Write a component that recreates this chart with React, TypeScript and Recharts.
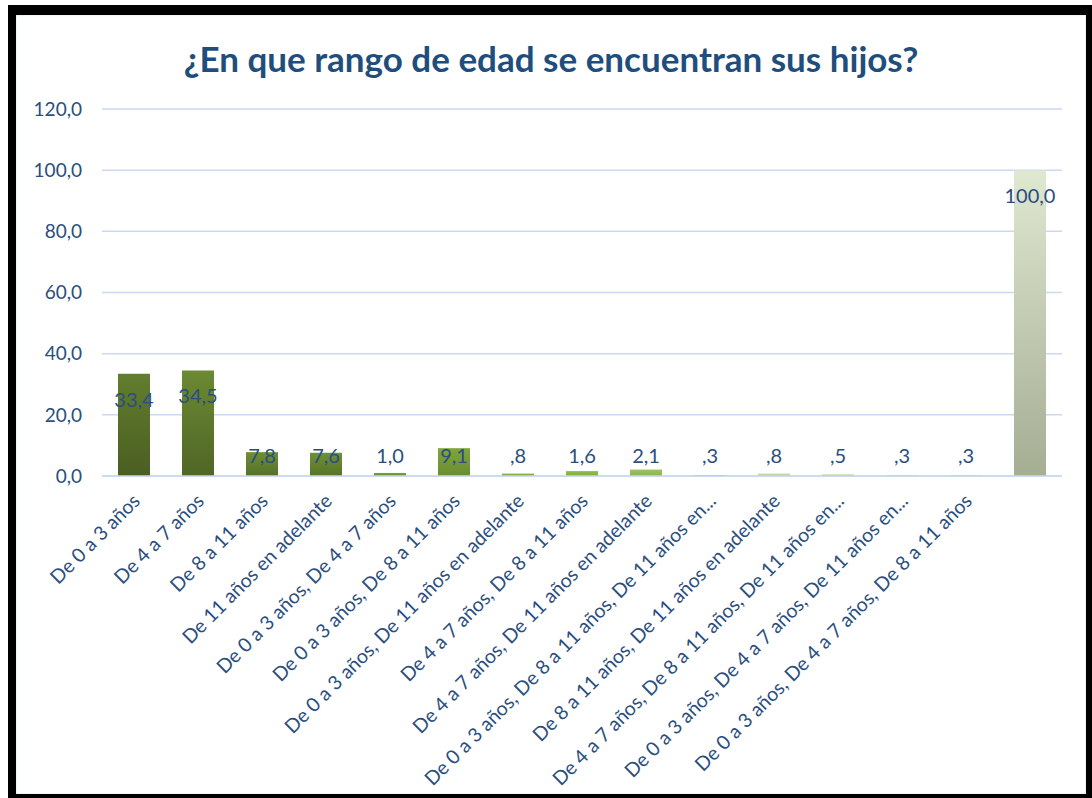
import { BarChart, Bar, XAxis, YAxis, CartesianGrid, Cell, LabelList } from "recharts";

const categories = [
  "De 0 a 3 años",
  "De 4 a 7 años",
  "De 8 a 11 años",
  "De 11 años en adelante",
  "De 0 a 3 años, De 4 a 7 años",
  "De 0 a 3 años, De 8 a 11 años",
  "De 0 a 3 años, De 11 años en adelante",
  "De 4 a 7 años, De 8 a 11 años",
  "De 4 a 7 años, De 11 años en adelante",
  "De 0 a 3 años, De 8 a 11 años, De 11 años en...",
  "De 8 a 11 años, De 11 años en adelante",
  "De 4 a 7 años, De 8 a 11 años, De 11 años en...",
  "De 0 a 3 años, De 4 a 7 años, De 11 años en...",
  "De 0 a 3 años, De 4 a 7 años, De 8 a 11 años",
  "",
];

const percents = [33.4, 34.5, 7.8, 7.6, 1.0, 9.1, 0.8, 1.6, 2.1, 0.3, 0.8, 0.5, 0.3, 0.3, 100.0];

const yTicks = [0, 20, 40, 60, 80, 100, 120];

// top / bottom gradient stops per bar
const barTops = [
  "#627e2e", "#6b8a32", "#6d8f34", "#6f9135", "#7aa03a", "#7fa53c", "#8cb84a",
  "#8fbd44", "#9cc35e", "#a5c86a", "#c6dba5", "#b4d184", "#c0d89c", "#c0d89c", "#dfe8d0",
];
const barBottoms = [
  "#4a5e22", "#506626", "#55702a", "#587329", "#6a8d32", "#6a8d32", "#7aa63e",
  "#80ad3a", "#8cb353", "#95b85e", "#b8cf94", "#a5c274", "#b2cb8c", "#b2cb8c", "#a5ad93",
];

const data = categories.map((name, i) => ({ name, value: percents[i] }));

const blue = "#2a4e7e";
const font = "Lato, 'Open Sans', sans-serif";

const fmt = (v: number) => {
  const s = v.toFixed(1).replace(".", ",");
  return s.startsWith("0,") && v !== 0 ? s.slice(1) : s;
};

const ValueLabel = (props: any) => {
  const { x, y, width, height, value } = props;
  const cy = Math.min(y + 25, y + height - 21);
  return (
    <text
      x={x + width / 2}
      y={cy}
      textAnchor="middle"
      dominantBaseline="central"
      fill={blue}
      fontSize={20}
      fontFamily={font}
    >
      {fmt(value)}
    </text>
  );
};

const XTick = (props: any) => {
  const { x, y, payload } = props;
  return (
    <g transform={`translate(${x + 3},${y + 14})`}>
      <text
        transform="rotate(-45)"
        textAnchor="end"
        fill={blue}
        fontSize={19.5}
        fontFamily={font}
        dy={6}
      >
        {payload.value}
      </text>
    </g>
  );
};

export default function App() {
  return (
    <div style={{ position: "absolute", left: 0, top: 0, width: 1092, height: 798, background: "#fff" }}>
      {/* frame */}
      <div
        style={{
          position: "absolute",
          left: 8,
          top: 5,
          width: 1084,
          height: 793,
          background: "#000",
        }}
      />
      <div
        style={{
          position: "absolute",
          left: 16,
          top: 15,
          width: 1070,
          height: 779,
          background: "#fff",
          boxShadow: "inset 0 0 2px #c8d3e3",
        }}
      />

      {/* Title */}
      <div
        style={{
          position: "absolute",
          left: 16,
          width: 1070,
          top: 37,
          textAlign: "center",
          fontFamily: font,
          fontWeight: 700,
          fontSize: 35,
          color: "#1f4e7d",
        }}
      >
        ¿En que rango de edad se encuentran sus hijos?
      </div>

      <div style={{ position: "absolute", left: 0, top: 0 }}>
        <BarChart
          width={1092}
          height={798}
          data={data}
          margin={{ top: 109, right: 30, bottom: 4, left: 16 }}
          barSize={32}
        >
          <defs>
            {barTops.map((c, i) => (
              <linearGradient key={i} id={`g${i}`} x1="0" y1="0" x2="0" y2="1">
                <stop offset="0%" stopColor={c} />
                <stop offset="100%" stopColor={barBottoms[i]} />
              </linearGradient>
            ))}
          </defs>

          <CartesianGrid vertical={false} stroke="#c9d9ef" strokeWidth={1.5} />

          <XAxis
            dataKey="name"
            interval={0}
            height={318}
            axisLine={{ stroke: "#c9d9ef", strokeWidth: 1.5 }}
            tickLine={false}
            tick={<XTick />}
          />
          <YAxis
            width={86}
            domain={[0, 120]}
            ticks={yTicks}
            axisLine={false}
            tickLine={false}
            tickMargin={14}
            tickFormatter={(v: number) => v.toFixed(1).replace(".", ",")}
            tick={{ fill: blue, fontSize: 19, fontFamily: font }}
          />

          <Bar dataKey="value" isAnimationActive={false}>
            {data.map((_, i) => (
              <Cell key={i} fill={`url(#g${i})`} />
            ))}
            <LabelList dataKey="value" content={<ValueLabel />} />
          </Bar>
        </BarChart>
      </div>
    </div>
  );
}
